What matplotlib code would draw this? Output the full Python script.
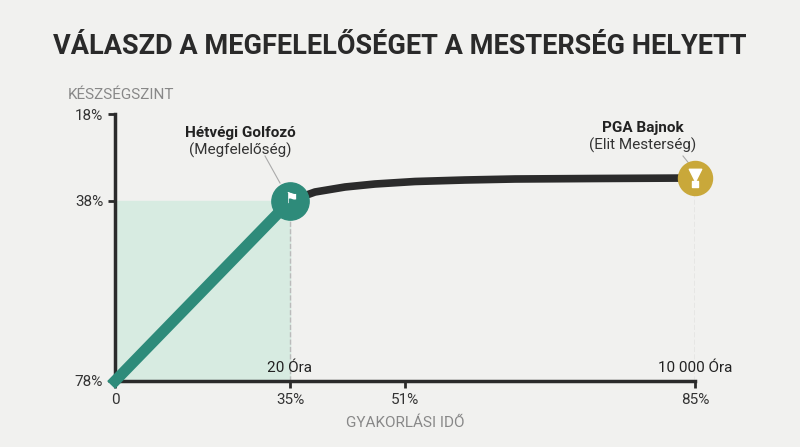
import matplotlib
matplotlib.use("Agg")
import matplotlib.pyplot as plt
import numpy as np

plt.rcParams['font.family'] = ['Roboto', 'DejaVu Sans']

x_ticks_pos = [0, 175, 290, 580]
x_tick_labels = ["0", "35%", "51%", "85%"]
y_ticks_pos = [0, 180, 267]
y_tick_labels = ["78%", "38%", "18%"]

ramp_x = [0, 175]
ramp_y = [0, 180]
plateau_x = [175, 200, 230, 260, 300, 350, 400, 480, 580]
plateau_y = [180, 189, 194, 197, 199.5, 201, 202, 202.5, 203]

BG = "#f1f1ef"
TEAL = "#2e8b7a"
GOLD = "#c9a83a"
DARK = "#2b2b2b"

fig = plt.figure(figsize=(8, 4.47), dpi=100, facecolor=BG)
ax = fig.add_axes([115/800, 1-381/447, 580/800, 267/447], facecolor=BG)
ax.set_xlim(0, 580)
ax.set_ylim(0, 267)
for s in ["top", "right"]:
    ax.spines[s].set_visible(False)
for s in ["left", "bottom"]:
    ax.spines[s].set_color(DARK)
    ax.spines[s].set_linewidth(2.5)
ax.set_xticks(x_ticks_pos)
ax.set_xticklabels(x_tick_labels, fontsize=11, color="#333")
ax.set_yticks(y_ticks_pos)
ax.set_yticklabels(y_tick_labels, fontsize=11, color="#333")
ax.tick_params(length=5, width=2, color=DARK)

ax.fill_between([0, 175], 0, 180, color="#d7ebe1", zorder=1)
ax.plot([175, 175], [0, 180], ls="--", color="#bbbbbb", lw=1, zorder=2)
ax.plot([580, 580], [0, 203], ls="--", color="#bbbbbb", lw=1, zorder=2)
ax.plot(plateau_x, plateau_y, color=DARK, lw=5.5, solid_capstyle="round", zorder=3)
ax.plot(ramp_x, ramp_y, color=TEAL, lw=8, zorder=4, clip_on=False)

ax.scatter([175], [180], s=720, color=TEAL, zorder=5, clip_on=False)
ax.text(176, 183, "⚑", color="white", fontsize=11, ha="center", va="center", zorder=6, family="DejaVu Sans")
ax.scatter([580], [203], s=600, color=GOLD, zorder=5, clip_on=False)
ax.scatter([580], [206], s=80, marker="v", color="white", zorder=6, clip_on=False)
ax.scatter([580], [197], s=22, marker="s", color="white", zorder=6, clip_on=False)

ax.plot([150, 165], [225, 198], color="#aaaaaa", lw=0.8, zorder=2)
ax.plot([568, 576], [225, 215], color="#aaaaaa", lw=0.8, zorder=2)
ax.text(125, 248, "Hétvégi Golfozó", fontsize=11, fontweight="bold", ha="center", va="center", color="#222")
ax.text(125, 231, "(Megfelelőség)", fontsize=11, ha="center", va="center", color="#333")
ax.text(528, 253, "PGA Bajnok", fontsize=11, fontweight="bold", ha="center", va="center", color="#222")
ax.text(528, 236, "(Elit Mesterség)", fontsize=11, ha="center", va="center", color="#333")
ax.text(175, 13, "20 Óra", fontsize=11, ha="center", va="center", color="#222")
ax.text(580, 13, "10 000 Óra", fontsize=11, ha="center", va="center", color="#222")

fig.text(400/800, 1-47/447, "VÁLASZD A MEGFELELŐSÉGET A MESTERSÉG HELYETT", fontsize=19.5,
         fontweight="bold", ha="center", va="center", color="#2a2a2a")
fig.text(68/800, 1-95/447, "KÉSZSÉGSZINT", fontsize=11, ha="left", va="center", color="#888")
fig.text(405/800, 1-423/447, "GYAKORLÁSI IDŐ", fontsize=11, ha="center", va="center", color="#888")

fig.savefig("out.png", dpi=100, facecolor=BG)
